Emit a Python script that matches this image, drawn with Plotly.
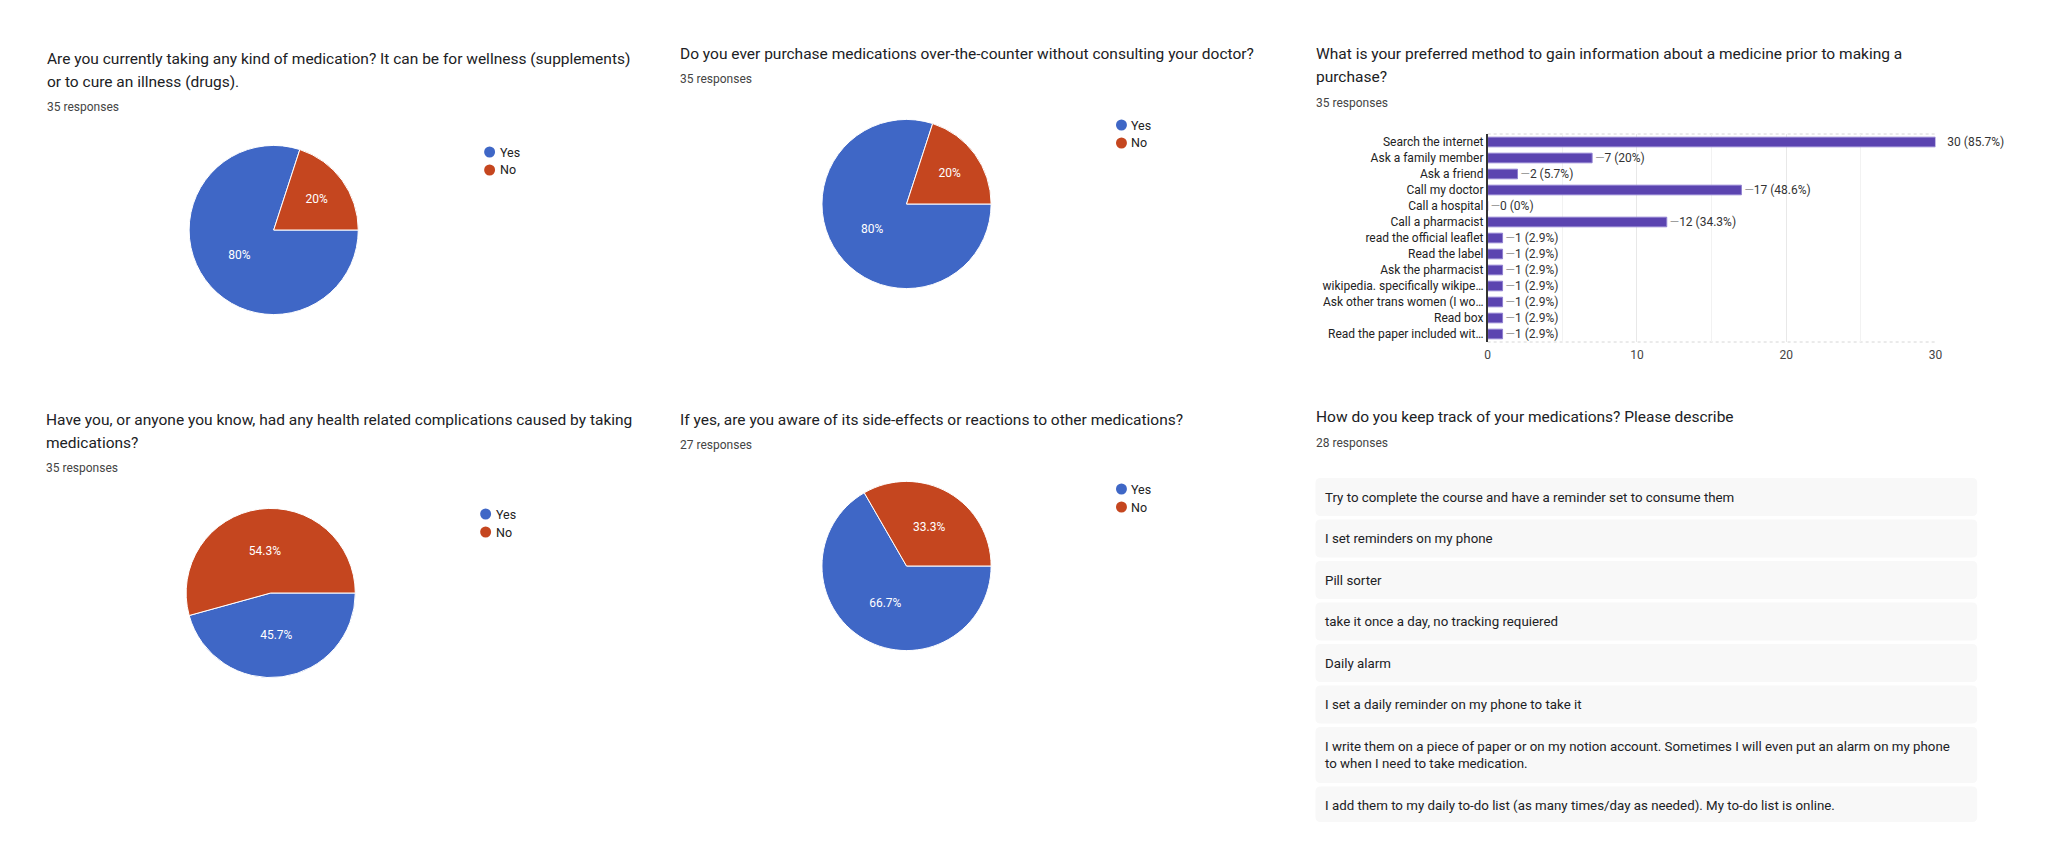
import plotly.graph_objects as go

# the page body adds an 8px margin; keep the figure a little narrower than the window
W, H = 2048, 858
OFF = 8
FW, FH = 2017, H - 2 * OFF

# pie data (counts)
pie_labels = ["Yes", "No"]
taking_meds = [28, 7]
otc_purchase = [28, 7]
complications = [16, 19]
aware_side_effects = [18, 9]

# bar data
info_methods = ["Search the internet", "Ask a family member", "Ask a friend", "Call my doctor",
                "Call a hospital", "Call a pharmacist", "read the official leaflet", "Read the label",
                "Ask the pharmacist", "wikipedia. specifically wikipe…", "Ask other trans women (I wo…",
                "Read box", "Read the paper included wit…"]
info_counts = [30, 7, 2, 17, 0, 12, 1, 1, 1, 1, 1, 1, 1]
info_total = 35

# free-text answers
track_answers = [
    "Try to complete the course and have a reminder set to consume them",
    "I set reminders on my phone",
    "Pill sorter",
    "take it once a day, no tracking requiered",
    "Daily alarm",
    "I set a daily reminder on my phone to take it",
    "I write them on a piece of paper or on my notion account. Sometimes I will even put an alarm on my phone<br>to when I need to take medication.",
    "I add them to my daily to-do list (as many times/day as needed). My to-do list is online.",
]

BLUE = "#3f67c6"
RED = "#c5461f"
PURPLE = "#5b44b0"
FONT = "Roboto"


def px(x):
    return (x - OFF) / FW


def py(y):
    return 1 - (y - OFF) / FH


fig = go.Figure()
annotations = []
shapes = []


def note(x, y, text, size, color, xanchor="left"):
    annotations.append(dict(x=px(x), y=py(y), text=text, xref="paper", yref="paper",
                            xanchor=xanchor, yanchor="middle", align="left",
                            borderpad=0, borderwidth=0, showarrow=False,
                            font=dict(family=FONT, size=size, color=color)))


def add_title(x, lines, y0, resp, resp_y):
    for i, line in enumerate(lines):
        note(x, y0 + i * 23, line, 15.5, "#202124")
    note(x, resp_y, resp, 12, "#444")


def add_pie(values, cx, cy, r, lx, ly):
    fig.add_trace(go.Pie(
        labels=pie_labels, values=values, sort=False, direction="clockwise", rotation=90,
        marker=dict(colors=[BLUE, RED], line=dict(color="white", width=1)),
        textinfo="percent", textposition="inside", insidetextorientation="horizontal",
        textfont=dict(family=FONT, size=12, color="white"), showlegend=False,
        domain=dict(x=[px(cx - r), px(cx + r)], y=[py(cy + r), py(cy - r)]),
    ))
    # legend: round swatch + label
    for i, (lab, col) in enumerate(zip(pie_labels, [BLUE, RED])):
        yy = ly + i * 18
        shapes.append(dict(type="circle", xref="paper", yref="paper",
                           x0=px(lx - 5.5), x1=px(lx + 5.5), y0=py(yy + 5.5), y1=py(yy - 5.5),
                           fillcolor=col, line=dict(width=0)))
        note(lx + 10, yy, lab, 12.5, "#222")


# top row
add_title(44, ["Are you currently taking any kind of medication? It can be for wellness (supplements)",
               "or to cure an illness (drugs)."], 59, "35 responses", 107)
add_pie(taking_meds, 272, 230, 85, 489, 152)

add_title(680, ["Do you ever purchase medications over-the-counter without consulting your doctor?"],
          54, "35 responses", 79)
add_pie(otc_purchase, 908, 204, 85, 1124, 125)

add_title(1319, ["What is your preferred method to gain information about a medicine prior to making a",
                 "purchase?"], 54, "35 responses", 103)

# bottom row
add_title(43, ["Have you, or anyone you know, had any health related complications caused by taking",
               "medications?"], 420, "35 responses", 468)
add_pie(complications, 269, 593, 85, 485, 514)

add_title(680, ["If yes, are you aware of its side-effects or reactions to other medications?"],
          420, "27 responses", 445)
add_pie(aware_side_effects, 908, 566, 85, 1124, 489)

add_title(1319, ["How do you keep track of your medications? Please describe"], 417, "28 responses", 443)

# bar chart
bar_text = []
for v in info_counts:
    pct = f"{round(v / info_total * 100, 1):g}"
    if v == max(info_counts):
        bar_text.append(f"   {v} ({pct}%)")
    else:
        bar_text.append(f'<span style="color:#9e9e9e">—</span>{v} ({pct}%)')

fig.add_trace(go.Bar(
    x=info_counts, y=info_methods, orientation="h", text=bar_text, textposition="outside",
    constraintext="none", cliponaxis=False, showlegend=False,
    textfont=dict(family=FONT, size=12, color="#333"),
    marker=dict(color=PURPLE, line=dict(color="#8f7fd0", width=1)),
    width=0.6, xaxis="x", yaxis="y",
))

# faint dotted frame lines at top and bottom of the bar plot area
for yd in (0, 1):
    shapes.append(dict(type="line", xref="x domain", yref="y domain", x0=0, x1=1, y0=yd, y1=yd,
                       line=dict(color="#d6d6d6", width=1, dash="dot"), layer="below"))

# free text boxes
top = 478
for ans in track_answers:
    n_lines = ans.count("<br>") + 1
    h = 38 + 18 * (n_lines - 1)
    bot = min(top + h, 822)
    x0, x1, rr = 1319, 1984, 5
    path = (f"M {px(x0 + rr)} {py(top)} L {px(x1 - rr)} {py(top)} Q {px(x1)} {py(top)} {px(x1)} {py(top + rr)} "
            f"L {px(x1)} {py(bot - rr)} Q {px(x1)} {py(bot)} {px(x1 - rr)} {py(bot)} "
            f"L {px(x0 + rr)} {py(bot)} Q {px(x0)} {py(bot)} {px(x0)} {py(bot - rr)} "
            f"L {px(x0)} {py(top + rr)} Q {px(x0)} {py(top)} {px(x0 + rr)} {py(top)} Z")
    shapes.append(dict(type="path", path=path, xref="paper", yref="paper",
                       fillcolor="#f8f8f8", line=dict(width=0), layer="below"))
    note(1329, top + h / 2, ans, 13.3, "#202124")
    top += h + 3.5

fig.update_layout(
    width=FW, height=FH,
    margin=dict(l=0, r=0, t=0, b=0),
    paper_bgcolor="white", plot_bgcolor="white",
    font=dict(family=FONT, color="#222"),
    xaxis=dict(domain=[px(1492), px(1942)], range=[0, 30], tickvals=[0, 10, 20, 30],
               showgrid=True, gridcolor="#e8e8e8", zeroline=False,
               minor=dict(dtick=5, showgrid=True, gridcolor="#f2f2f2"),
               tickfont=dict(family=FONT, size=12, color="#444"), ticklabelstandoff=4,
               fixedrange=True),
    yaxis=dict(domain=[py(342), py(134)], autorange="reversed", showline=True,
               linecolor="#333", linewidth=1.5, showgrid=False, ticks="",
               tickfont=dict(family=FONT, size=12, color="#222"), fixedrange=True),
    annotations=annotations,
    shapes=shapes,
)

fig.write_html("out.html")
